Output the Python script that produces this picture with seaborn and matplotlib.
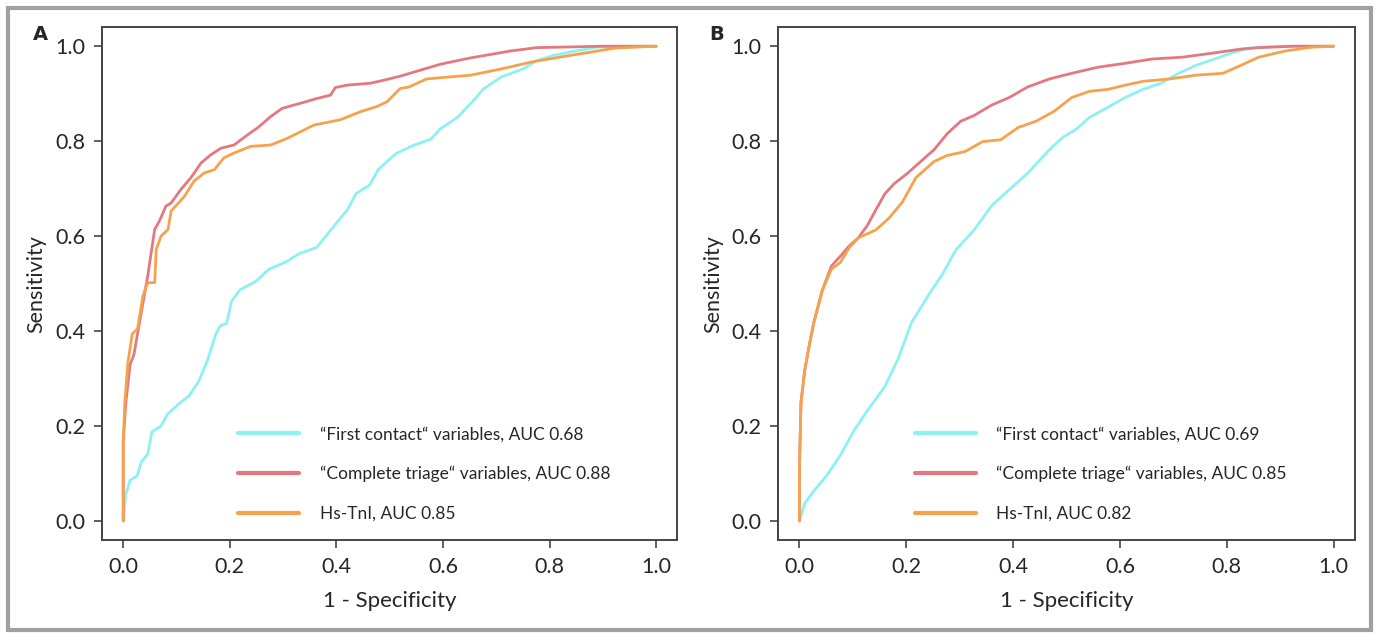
import pandas as pd
import seaborn as sns
import matplotlib.pyplot as plt
from matplotlib.patches import Rectangle

# Panel A - ROC points (1 - specificity, sensitivity)
a_first_x = [0, 0.005, 0.013, 0.026, 0.034, 0.046, 0.054, 0.071, 0.083, 0.108, 0.124, 0.141, 0.157, 0.174, 0.182,
             0.194, 0.203, 0.219, 0.248, 0.273, 0.306, 0.330, 0.363, 0.396, 0.421, 0.437, 0.462, 0.479, 0.512, 0.544,
             0.577, 0.594, 0.627, 0.656, 0.676, 0.709, 0.750, 0.775, 0.808, 0.849, 0.890, 0.95, 1.0]
a_first_y = [0, 0.057, 0.086, 0.095, 0.124, 0.141, 0.188, 0.200, 0.225, 0.250, 0.264, 0.293, 0.335, 0.394, 0.411,
             0.416, 0.462, 0.487, 0.504, 0.530, 0.546, 0.563, 0.576, 0.622, 0.656, 0.690, 0.707, 0.741, 0.774, 0.791,
             0.804, 0.825, 0.850, 0.884, 0.910, 0.935, 0.952, 0.969, 0.981, 0.990, 0.998, 1.0, 1.0]

a_triage_x = [0, 0, 0.005, 0.013, 0.020, 0.034, 0.046, 0.059, 0.068, 0.080, 0.090, 0.108, 0.127, 0.146, 0.164,
              0.183, 0.208, 0.233, 0.252, 0.277, 0.298, 0.333, 0.364, 0.389, 0.398, 0.420, 0.464, 0.495, 0.520,
              0.595, 0.650, 0.727, 0.776, 0.900, 1.0]
a_triage_y = [0, 0.166, 0.250, 0.330, 0.350, 0.440, 0.516, 0.614, 0.632, 0.663, 0.670, 0.698, 0.723, 0.754, 0.771,
              0.785, 0.792, 0.813, 0.828, 0.852, 0.869, 0.880, 0.890, 0.897, 0.913, 0.918, 0.922, 0.930, 0.937,
              0.962, 0.975, 0.990, 0.997, 1.0, 1.0]

a_tni_x = [0, 0, 0.003, 0.009, 0.017, 0.027, 0.037, 0.046, 0.059, 0.062, 0.071, 0.084, 0.090, 0.115, 0.133, 0.152,
           0.171, 0.189, 0.208, 0.239, 0.277, 0.308, 0.333, 0.358, 0.407, 0.445, 0.476, 0.495, 0.520, 0.536,
           0.569, 0.652, 0.709, 0.767, 0.841, 0.923, 1.0]
a_tni_y = [0, 0.166, 0.250, 0.335, 0.394, 0.405, 0.474, 0.502, 0.502, 0.572, 0.600, 0.614, 0.653, 0.684, 0.716,
           0.733, 0.740, 0.765, 0.775, 0.789, 0.792, 0.806, 0.820, 0.834, 0.845, 0.862, 0.873, 0.883, 0.911,
           0.914, 0.931, 0.939, 0.952, 0.967, 0.981, 0.996, 1.0]

# Panel B
b_first_x = [0, 0.010, 0.027, 0.052, 0.077, 0.102, 0.127, 0.160, 0.185, 0.210, 0.243, 0.268, 0.293, 0.327, 0.360,
             0.393, 0.427, 0.468, 0.493, 0.518, 0.543, 0.577, 0.610, 0.643, 0.677, 0.710, 0.743, 0.777, 0.810,
             0.843, 0.900, 1.0]
b_first_y = [0, 0.037, 0.063, 0.097, 0.139, 0.190, 0.232, 0.283, 0.342, 0.418, 0.478, 0.520, 0.571, 0.613, 0.664,
             0.698, 0.732, 0.782, 0.808, 0.825, 0.850, 0.871, 0.892, 0.909, 0.922, 0.943, 0.960, 0.973, 0.986,
             0.996, 1.0, 1.0]

b_triage_x = [0, 0, 0.003, 0.010, 0.018, 0.027, 0.043, 0.060, 0.077, 0.093, 0.110, 0.127, 0.143, 0.160, 0.177,
              0.202, 0.227, 0.252, 0.277, 0.302, 0.327, 0.360, 0.393, 0.427, 0.468, 0.510, 0.560, 0.610, 0.660,
              0.718, 0.777, 0.827, 0.860, 0.927, 1.0]
b_triage_y = [0, 0.105, 0.249, 0.317, 0.367, 0.418, 0.486, 0.537, 0.558, 0.579, 0.596, 0.622, 0.655, 0.689, 0.710,
              0.732, 0.757, 0.782, 0.816, 0.842, 0.854, 0.876, 0.892, 0.914, 0.931, 0.943, 0.956, 0.964, 0.973,
              0.977, 0.986, 0.994, 0.997, 1.0, 1.0]

b_tni_x = [0, 0, 0.003, 0.010, 0.018, 0.027, 0.043, 0.060, 0.077, 0.093, 0.110, 0.143, 0.168, 0.193, 0.218, 0.252,
           0.277, 0.310, 0.343, 0.377, 0.410, 0.443, 0.477, 0.510, 0.543, 0.577, 0.610, 0.643, 0.693, 0.743,
           0.793, 0.827, 0.860, 0.910, 0.960, 1.0]
b_tni_y = [0, 0.105, 0.249, 0.317, 0.367, 0.418, 0.486, 0.530, 0.545, 0.575, 0.596, 0.613, 0.638, 0.672, 0.723,
           0.757, 0.770, 0.778, 0.799, 0.803, 0.829, 0.842, 0.863, 0.892, 0.905, 0.909, 0.918, 0.926, 0.931,
           0.939, 0.943, 0.960, 0.977, 0.990, 0.998, 1.0]

labels_a = ['\u201cFirst contact\u201c variables, AUC 0.68',
            '\u201cComplete triage\u201c variables, AUC 0.88',
            'Hs-TnI, AUC 0.85']
labels_b = ['\u201cFirst contact\u201c variables, AUC 0.69',
            '\u201cComplete triage\u201c variables, AUC 0.85',
            'Hs-TnI, AUC 0.82']
colors = ['#8DF1F4', '#E5787E', '#F6A24C']

sns.set_style('white')
plt.rcParams['font.family'] = ['Lato', 'DejaVu Sans']

fig = plt.figure(figsize=(13.77, 6.33), dpi=100)
ax_a = fig.add_axes([0.074, 0.147, 0.418, 0.810])
ax_b = fig.add_axes([0.565, 0.147, 0.419, 0.810])

panels = [
    (ax_a, 'A', [(a_first_x, a_first_y), (a_triage_x, a_triage_y), (a_tni_x, a_tni_y)], labels_a),
    (ax_b, 'B', [(b_first_x, b_first_y), (b_triage_x, b_triage_y), (b_tni_x, b_tni_y)], labels_b),
]

for ax, letter, curves, labels in panels:
    for (xs, ys), lab, col in zip(curves, labels, colors):
        df = pd.DataFrame({'fpr': xs, 'tpr': ys})
        sns.lineplot(data=df, x='fpr', y='tpr', ax=ax, sort=False, estimator=None,
                     color=col, linewidth=2, label=lab)
    ax.set_xlim(-0.04, 1.04)
    ax.set_ylim(-0.04, 1.04)
    ax.set_xticks([0, 0.2, 0.4, 0.6, 0.8, 1.0])
    ax.set_yticks([0, 0.2, 0.4, 0.6, 0.8, 1.0])
    ax.set_xticklabels(['0.0', '0.2', '0.4', '0.6', '0.8', '1.0'])
    ax.set_yticklabels(['0.0', '0.2', '0.4', '0.6', '0.8', '1.0'])
    ax.tick_params(axis='both', direction='out', length=6, width=1.2, color='#444444',
                   labelsize=15.5, pad=6, bottom=True, left=True)
    ax.set_xlabel('1 - Specificity', fontsize=16, labelpad=10)
    ax.set_ylabel('Sensitivity', fontsize=15.5, labelpad=6)
    for s in ax.spines.values():
        s.set_color('#444444')
        s.set_linewidth(1.4)
    leg = ax.legend(loc='lower left', bbox_to_anchor=(0.21, 0.005), frameon=False,
                    fontsize=12.5, handlelength=3.5, labelspacing=1.35, handletextpad=1.2)
    for line in leg.get_lines():
        line.set_linewidth(3)
    ax.text(-0.12, 0.985, letter, transform=ax.transAxes, fontsize=14, fontweight='bold',
            family='DejaVu Sans', ha='left', va='center')

fig.patches.append(Rectangle((8 / 1377, 3 / 633), 1363 / 1377, 622 / 633, transform=fig.transFigure,
                             fill=False, edgecolor='#A0A0A0', linewidth=3))

fig.savefig('out.png', dpi=100)
